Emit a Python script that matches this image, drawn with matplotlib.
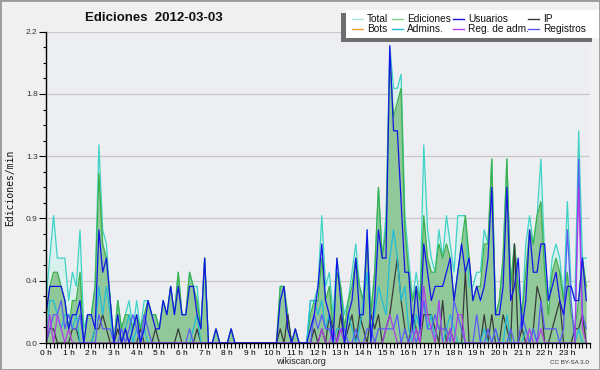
import matplotlib
matplotlib.use("Agg")
import matplotlib.pyplot as plt
import numpy as np
from matplotlib.patches import Rectangle
from matplotlib.lines import Line2D
from matplotlib.ticker import FixedLocator, FuncFormatter

plt.rcParams["font.family"] = ["Liberation Sans", "DejaVu Sans"]

title = "Ediciones  2012-03-03"
y_label = "Ediciones/min"
hour_labels = [f"{h} h" for h in range(24)]
series_names = ["Total", "Ediciones", "Usuarios", "IP", "Bots", "Admins.", "Reg. de adm.", "Registros"]

# values per 10-minute slot (edits per minute), 6 per hour
total = [
    0.3, 0.6, 0.9, 0.6, 0.6, 0.6,
    0.3, 0.5, 0.4, 0.8, 0.1, 0.2,
    0.2, 0.4, 1.4, 0.8, 0.7, 0.3,
    0.0, 0.3, 0.1, 0.2, 0.3, 0.1,
    0.3, 0.1, 0.3, 0.3, 0.2, 0.2,
    0.1, 0.3, 0.2, 0.4, 0.2, 0.5,
    0.2, 0.2, 0.5, 0.4, 0.4, 0.1,
    0.6, 0.0, 0.0, 0.1, 0.0, 0.0,
    0.0, 0.1, 0.0, 0.0, 0.0, 0.0,
    0.0, 0.0, 0.0, 0.0, 0.0, 0.0,
    0.0, 0.0, 0.4, 0.4, 0.2, 0.0,
    0.1, 0.0, 0.0, 0.0, 0.3, 0.3,
    0.4, 0.9, 0.4, 0.5, 0.2, 0.6,
    0.4, 0.2, 0.3, 0.5, 0.7, 0.4,
    0.3, 0.8, 0.2, 0.5, 1.1, 0.6,
    0.9, 2.1, 1.8, 1.8, 1.9, 0.9,
    0.6, 0.3, 0.5, 0.3, 1.4, 0.8,
    0.6, 0.5, 0.8, 0.6, 0.9, 0.7,
    0.5, 0.9, 0.9, 0.9, 0.4, 0.4,
    0.5, 0.5, 0.8, 0.7, 1.3, 0.2,
    0.3, 0.6, 1.3, 0.4, 0.7, 0.4,
    0.2, 0.7, 0.9, 0.7, 0.9, 1.3,
    0.6, 0.3, 0.6, 0.7, 0.6, 0.3,
    1.0, 0.4, 0.3, 1.5, 0.6, 0.6,
]
edits = [
    0.2, 0.4, 0.5, 0.5, 0.4, 0.3,
    0.1, 0.3, 0.3, 0.5, 0.0, 0.2,
    0.2, 0.4, 1.2, 0.7, 0.6, 0.3,
    0.0, 0.3, 0.1, 0.2, 0.2, 0.1,
    0.2, 0.1, 0.2, 0.3, 0.2, 0.2,
    0.1, 0.3, 0.2, 0.4, 0.2, 0.5,
    0.2, 0.2, 0.5, 0.4, 0.3, 0.1,
    0.6, 0.0, 0.0, 0.1, 0.0, 0.0,
    0.0, 0.1, 0.0, 0.0, 0.0, 0.0,
    0.0, 0.0, 0.0, 0.0, 0.0, 0.0,
    0.0, 0.0, 0.4, 0.4, 0.2, 0.0,
    0.1, 0.0, 0.0, 0.0, 0.2, 0.3,
    0.3, 0.6, 0.3, 0.4, 0.1, 0.5,
    0.4, 0.1, 0.3, 0.4, 0.6, 0.4,
    0.3, 0.7, 0.2, 0.5, 1.1, 0.6,
    0.8, 2.0, 1.6, 1.7, 1.8, 0.8,
    0.5, 0.3, 0.4, 0.3, 0.9, 0.6,
    0.5, 0.5, 0.7, 0.6, 0.7, 0.6,
    0.3, 0.5, 0.7, 0.9, 0.6, 0.3,
    0.4, 0.4, 0.7, 0.7, 1.3, 0.2,
    0.3, 0.6, 1.3, 0.4, 0.7, 0.4,
    0.2, 0.5, 0.8, 0.7, 0.9, 1.0,
    0.5, 0.2, 0.5, 0.6, 0.5, 0.3,
    0.5, 0.2, 0.1, 0.3, 0.6, 0.4,
]
users = [
    0.2, 0.4, 0.4, 0.4, 0.4, 0.3,
    0.1, 0.2, 0.2, 0.3, 0.0, 0.2,
    0.2, 0.1, 0.8, 0.5, 0.6, 0.3,
    0.0, 0.2, 0.0, 0.1, 0.0, 0.1,
    0.2, 0.0, 0.1, 0.3, 0.2, 0.1,
    0.1, 0.3, 0.2, 0.4, 0.2, 0.4,
    0.2, 0.2, 0.4, 0.4, 0.2, 0.1,
    0.6, 0.0, 0.0, 0.1, 0.0, 0.0,
    0.0, 0.1, 0.0, 0.0, 0.0, 0.0,
    0.0, 0.0, 0.0, 0.0, 0.0, 0.0,
    0.0, 0.0, 0.3, 0.4, 0.1, 0.0,
    0.1, 0.0, 0.0, 0.0, 0.1, 0.2,
    0.4, 0.7, 0.3, 0.2, 0.0, 0.6,
    0.3, 0.0, 0.2, 0.3, 0.6, 0.2,
    0.2, 0.8, 0.0, 0.3, 0.8, 0.6,
    0.6, 2.1, 1.5, 1.5, 1.0, 0.5,
    0.5, 0.1, 0.4, 0.1, 0.7, 0.5,
    0.3, 0.4, 0.4, 0.4, 0.5, 0.6,
    0.3, 0.5, 0.7, 0.5, 0.6, 0.3,
    0.4, 0.3, 0.4, 0.6, 1.1, 0.2,
    0.2, 0.4, 1.1, 0.3, 0.4, 0.6,
    0.1, 0.3, 0.8, 0.5, 0.5, 0.7,
    0.7, 0.3, 0.4, 0.5, 0.3, 0.2,
    0.4, 0.4, 0.3, 0.3, 0.6, 0.3,
]
ip = [
    0.0, 0.1, 0.1, 0.0, 0.0, 0.0,
    0.0, 0.1, 0.1, 0.0, 0.0, 0.0,
    0.0, 0.1, 0.1, 0.2, 0.1, 0.0,
    0.0, 0.1, 0.0, 0.1, 0.0, 0.0,
    0.0, 0.1, 0.0, 0.0, 0.0, 0.1,
    0.0, 0.0, 0.0, 0.0, 0.0, 0.1,
    0.0, 0.0, 0.0, 0.0, 0.1, 0.0,
    0.0, 0.0, 0.0, 0.0, 0.0, 0.0,
    0.0, 0.0, 0.0, 0.0, 0.0, 0.0,
    0.0, 0.0, 0.0, 0.0, 0.0, 0.0,
    0.0, 0.0, 0.1, 0.0, 0.2, 0.0,
    0.0, 0.0, 0.0, 0.0, 0.0, 0.1,
    0.0, 0.1, 0.0, 0.2, 0.1, 0.0,
    0.2, 0.0, 0.1, 0.2, 0.0, 0.2,
    0.1, 0.0, 0.2, 0.1, 0.2, 0.0,
    0.1, 0.2, 0.4, 0.6, 0.3, 0.1,
    0.0, 0.2, 0.1, 0.0, 0.2, 0.2,
    0.2, 0.1, 0.0, 0.3, 0.0, 0.1,
    0.0, 0.0, 0.0, 0.5, 0.0, 0.0,
    0.0, 0.0, 0.2, 0.0, 0.2, 0.0,
    0.0, 0.2, 0.1, 0.0, 0.7, 0.0,
    0.1, 0.0, 0.0, 0.1, 0.4, 0.3,
    0.0, 0.0, 0.1, 0.2, 0.3, 0.0,
    0.0, 0.0, 0.1, 0.1, 0.2, 0.0,
]
bots = [0.0] * 144
admins = [
    0.0, 0.3, 0.3, 0.2, 0.1, 0.2,
    0.2, 0.1, 0.2, 0.0, 0.0, 0.0,
    0.0, 0.1, 0.4, 0.2, 0.4, 0.2,
    0.0, 0.0, 0.0, 0.1, 0.2, 0.0,
    0.1, 0.0, 0.1, 0.0, 0.0, 0.0,
    0.0, 0.0, 0.0, 0.0, 0.0, 0.0,
    0.0, 0.0, 0.0, 0.1, 0.2, 0.0,
    0.0, 0.0, 0.0, 0.0, 0.0, 0.0,
    0.0, 0.0, 0.0, 0.0, 0.0, 0.0,
    0.0, 0.0, 0.0, 0.0, 0.0, 0.0,
    0.0, 0.0, 0.0, 0.0, 0.0, 0.0,
    0.0, 0.0, 0.0, 0.0, 0.3, 0.3,
    0.2, 0.3, 0.1, 0.2, 0.0, 0.1,
    0.1, 0.0, 0.2, 0.1, 0.0, 0.1,
    0.3, 0.5, 0.1, 0.2, 0.4, 0.3,
    0.2, 0.6, 0.8, 0.6, 0.3, 0.4,
    0.1, 0.0, 0.2, 0.1, 0.3, 0.1,
    0.2, 0.0, 0.3, 0.0, 0.1, 0.2,
    0.1, 0.0, 0.0, 0.0, 0.0, 0.0,
    0.0, 0.0, 0.1, 0.0, 0.0, 0.1,
    0.0, 0.0, 0.2, 0.0, 0.0, 0.0,
    0.0, 0.1, 0.0, 0.1, 0.0, 0.0,
    0.0, 0.0, 0.0, 0.0, 0.0, 0.0,
    0.0, 0.0, 0.0, 0.1, 0.0, 0.0,
]
regadm = [
    0.0, 0.2, 0.0, 0.2, 0.1, 0.0,
    0.1, 0.0, 0.0, 0.0, 0.0, 0.0,
    0.0, 0.0, 0.0, 0.0, 0.0, 0.0,
    0.0, 0.0, 0.0, 0.0, 0.0, 0.0,
    0.0, 0.0, 0.0, 0.0, 0.0, 0.0,
    0.0, 0.0, 0.0, 0.0, 0.0, 0.0,
    0.0, 0.0, 0.0, 0.0, 0.0, 0.0,
    0.0, 0.0, 0.0, 0.0, 0.0, 0.0,
    0.0, 0.0, 0.0, 0.0, 0.0, 0.0,
    0.0, 0.0, 0.0, 0.0, 0.0, 0.0,
    0.0, 0.0, 0.0, 0.0, 0.0, 0.0,
    0.0, 0.0, 0.0, 0.0, 0.0, 0.0,
    0.0, 0.1, 0.0, 0.0, 0.1, 0.0,
    0.1, 0.0, 0.0, 0.0, 0.0, 0.0,
    0.0, 0.0, 0.0, 0.0, 0.0, 0.0,
    0.1, 0.2, 0.1, 0.0, 0.0, 0.0,
    0.0, 0.0, 0.1, 0.0, 0.4, 0.2,
    0.1, 0.0, 0.3, 0.0, 0.0, 0.1,
    0.0, 0.2, 0.2, 0.0, 0.0, 0.0,
    0.0, 0.0, 0.0, 0.0, 0.0, 0.0,
    0.0, 0.0, 0.0, 0.0, 0.0, 0.0,
    0.0, 0.0, 0.1, 0.0, 0.0, 0.1,
    0.0, 0.0, 0.0, 0.0, 0.0, 0.0,
    0.0, 0.0, 0.0, 1.1, 0.1, 0.0,
]
registros = [
    0.0, 0.1, 0.2, 0.2, 0.3, 0.1,
    0.2, 0.1, 0.1, 0.2, 0.0, 0.0,
    0.0, 0.0, 0.2, 0.1, 0.1, 0.1,
    0.0, 0.0, 0.1, 0.0, 0.1, 0.2,
    0.1, 0.0, 0.2, 0.1, 0.0, 0.0,
    0.0, 0.0, 0.0, 0.0, 0.0, 0.0,
    0.0, 0.0, 0.1, 0.0, 0.0, 0.0,
    0.0, 0.0, 0.0, 0.0, 0.0, 0.0,
    0.0, 0.0, 0.0, 0.0, 0.0, 0.0,
    0.0, 0.0, 0.0, 0.0, 0.0, 0.0,
    0.0, 0.0, 0.0, 0.0, 0.0, 0.0,
    0.0, 0.0, 0.0, 0.0, 0.0, 0.2,
    0.1, 0.2, 0.1, 0.1, 0.0, 0.0,
    0.1, 0.1, 0.0, 0.0, 0.1, 0.0,
    0.0, 0.1, 0.1, 0.0, 0.1, 0.1,
    0.1, 0.1, 0.1, 0.2, 0.0, 0.1,
    0.0, 0.1, 0.0, 0.1, 0.3, 0.1,
    0.1, 0.2, 0.1, 0.1, 0.1, 0.0,
    0.3, 0.2, 0.1, 0.0, 0.0, 0.0,
    0.2, 0.0, 0.0, 0.1, 0.0, 0.1,
    0.0, 0.0, 0.0, 0.1, 0.0, 0.0,
    0.2, 0.1, 0.0, 0.1, 0.0, 0.3,
    0.1, 0.1, 0.1, 0.1, 0.0, 0.1,
    0.8, 0.3, 0.0, 1.3, 0.2, 0.1,
]

colors = {
    "Total": "#3fd3c6",
    "Ediciones": "#3cb04a",
    "Usuarios": "#1414e8",
    "IP": "#3a3a3a",
    "Bots": "#f0a030",
    "Admins.": "#22bcd8",
    "Reg. de adm.": "#b43ee6",
    "Registros": "#5a5af8",
}

W, H = 600, 370
fig = plt.figure(figsize=(W / 100, H / 100), dpi=100, facecolor="#f0f0f0")
ax = fig.add_axes([46 / W, 27 / H, 544 / W, 311.3 / H])
ax.set_facecolor("#eceef1")

x = np.arange(len(total)) / 6.0
lw = 0.9
ax.fill_between(x, total, color="#d9f1ee", zorder=1, lw=0)
ax.fill_between(x, edits, color="#90c899", zorder=2, lw=0)
series = [
    ("Bots", bots), ("Total", total), ("Ediciones", edits), ("IP", ip),
    ("Admins.", admins), ("Registros", registros), ("Reg. de adm.", regadm),
    ("Usuarios", users),
]
for z, (name, vals) in enumerate(series):
    ax.plot(x, vals, color=colors[name], lw=lw, zorder=3 + z)

ax.set_xlim(0, 24)
ax.set_ylim(0, 2.2)
ymaj = np.linspace(0, 2.2, 6)
ax.yaxis.set_major_locator(FixedLocator(ymaj))
ax.yaxis.set_minor_locator(FixedLocator(np.linspace(0, 2.2, 21)))
ax.yaxis.set_major_formatter(FuncFormatter(lambda v, p: f"{v:.1f}"))
ax.set_xticks(range(24))
ax.set_xticklabels(hour_labels)
ax.xaxis.set_minor_locator(FixedLocator(np.arange(0, 24.01, 1 / 6)))
ax.grid(axis="y", which="major", color="#c8c8c8", lw=0.9)
ax.set_axisbelow(True)

for s in ["top", "right"]:
    ax.spines[s].set_visible(False)
for s in ["left", "bottom"]:
    ax.spines[s].set_color("black")
    ax.spines[s].set_linewidth(1.0)
    ax.spines[s].set_zorder(20)

ax.tick_params(axis="x", which="both", direction="out", length=3.5, width=0.8,
               labelsize=6, pad=1.2, colors="black")
ax.tick_params(axis="y", which="major", direction="out", length=5, width=0.8,
               labelsize=6, pad=1, colors="black")
ax.tick_params(axis="y", which="minor", direction="out", length=2.5, width=0.8)
for t in ax.get_yticklabels():
    t.set_color("#333333")

fig.text(154 / W, 1 - 18 / H, title, ha="center", va="center",
         fontsize=9.5, fontweight="bold", color="#111111")
fig.text(10 / W, 1 - 188 / H, y_label, rotation=90, ha="center", va="center",
         fontsize=7, color="#111111", family="DejaVu Sans Mono")
fig.text(301 / W, 1 - 361.5 / H, "wikiscan.org", ha="center", va="center",
         fontsize=6.5, color="#222222")
fig.text(569 / W, 1 - 363 / H, "CC BY-SA 3.0", ha="center", va="center",
         fontsize=4.5, color="#333333")

# legend box with shadow
fig.patches.append(Rectangle((341 / W, 1 - 41.5 / H), 251 / W, 29 / H,
                             transform=fig.transFigure, facecolor="#6e6e6e",
                             edgecolor="none", zorder=30))
fig.patches.append(Rectangle((346 / W, 1 - 37.5 / H), 253 / W, 28 / H,
                             transform=fig.transFigure, facecolor="white",
                             edgecolor="none", zorder=31))
legend_colors = dict(colors)
legend_colors["Total"] = "#a6e8e0"
legend_colors["Ediciones"] = "#7fcf86"
legend_layout = [
    ("Total", 352, 18.5), ("Ediciones", 392, 18.5), ("Usuarios", 453, 18.5), ("IP", 528, 18.5),
    ("Bots", 352, 28.5), ("Admins.", 392, 28.5), ("Reg. de adm.", 453, 28.5), ("Registros", 528, 28.5),
]
for name, lx, ly in legend_layout:
    yy = 1 - ly / H
    fig.add_artist(Line2D([lx / W, (lx + 11) / W], [yy, yy], transform=fig.transFigure,
                          color=legend_colors[name], lw=1.0, zorder=35))
    fig.text((lx + 15) / W, yy, name, ha="left", va="center", fontsize=7.3,
             color="#111111", zorder=36)

# outer border
fig.patches.append(Rectangle((0, 0), 1, 1, transform=fig.transFigure, fill=False,
                             edgecolor="#9a9a9a", lw=2, zorder=50))

fig.savefig("out.png", dpi=100, facecolor=fig.get_facecolor())
